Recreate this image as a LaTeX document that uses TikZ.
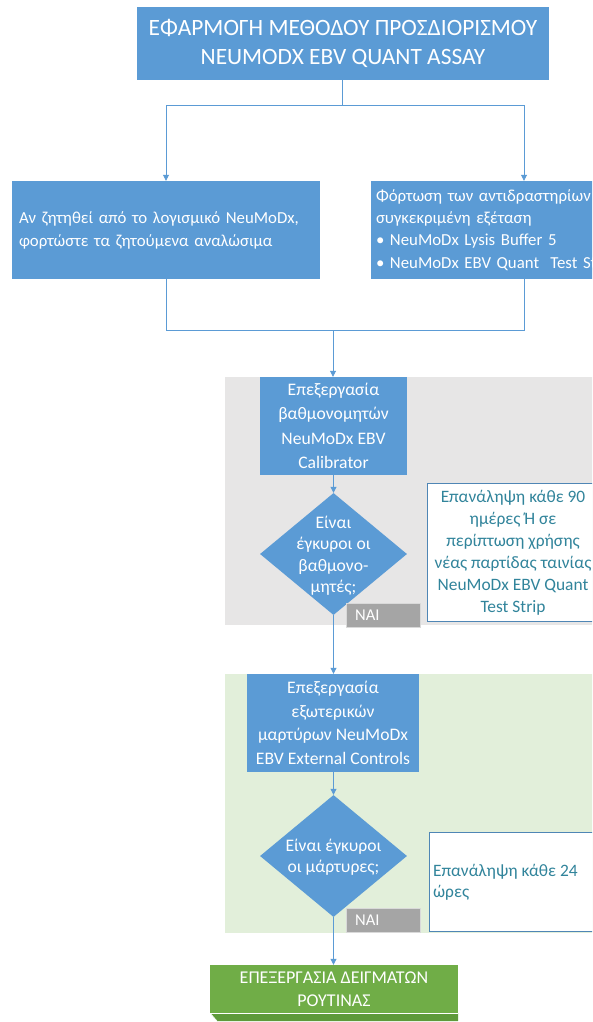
\documentclass[tikz,border=0pt]{standalone}
\usepackage{fontspec}
\setmainfont{Carlito}
\usetikzlibrary{shapes.geometric,arrows.meta}
\definecolor{mblue}{HTML}{5B9BD5}
\definecolor{lgray}{HTML}{E7E6E6}
\definecolor{lgreen}{HTML}{E2EFDA}
\definecolor{nborder}{HTML}{4F86B5}
\definecolor{ntext}{HTML}{31849B}
\definecolor{naigray}{HTML}{A5A5A5}
\definecolor{fgreen}{HTML}{70AD47}
\definecolor{fgreendk}{HTML}{5E9A3A}
\tikzset{
  bluebox/.style={draw=none,fill=mblue,text=white,inner sep=0pt,align=center},
  decision/.style={diamond,draw=none,fill=mblue,inner sep=0pt,aspect=1.2},
  notebox/.style={draw=nborder,line width=0.8pt,fill=white,inner sep=0pt},
  naibox/.style={draw=white!85!black,line width=0.6pt,fill=naigray,text=white,inner sep=0pt,minimum width=74pt,minimum height=24pt},
  conn/.style={draw=mblue,line width=0.8pt},
  arr/.style={conn,-{Triangle[width=6pt,length=6pt]}},
}
\begin{document}
\begin{tikzpicture}[x=1pt,y=-1pt]
\useasboundingbox (0,0) rectangle (592,1022);
\clip (0,0) rectangle (592,1022);
\fill[white] (0,0) rectangle (592,1022);
% regions
\fill[lgray] (225,377) rectangle (600,625);
\fill[lgreen] (225,674) rectangle (600,933);
% title
\node[bluebox,minimum width=412pt,minimum height=73pt,font=\fontsize{23.4}{28.5}\selectfont] (title) at (343,43.5)
  {ΕΦΑΡΜΟΓΗ ΜΕΘΟΔΟΥ ΠΡΟΣΔΙΟΡΙΣΜΟΥ\\NEUMODX EBV QUANT ASSAY};
% two boxes
\node[bluebox,minimum width=308pt,minimum height=98pt,text width=294pt,align=left,font=\fontsize{16.8}{23}\selectfont] (left) at (166,230)
  {Αν ζητηθεί από το λογισμικό NeuMoDx,\\φορτώστε τα ζητούμενα αναλώσιμα};
\node[bluebox,minimum width=306pt,minimum height=98pt,text width=296pt,align=left,font=\fontsize{16.8}{22.3}\selectfont] (right) at (524,230)
  {Φόρτωση των αντιδραστηρίων\\συγκεκριμένη εξέταση\\• NeuMoDx Lysis Buffer 5\\• NeuMoDx EBV Quant\ \ Test Strip};
% calibrator
\node[bluebox,minimum width=147pt,minimum height=98pt,font=\fontsize{17.6}{24.3}\selectfont] (calib) at (333.5,426)
  {Επεξεργασία\\βαθμονομητών\\NeuMoDx EBV\\Calibrator};
\node[decision,minimum width=147pt,minimum height=122pt] (d1) at (333.5,554) {};
\node[text=white,align=center,font=\fontsize{17.6}{21.5}\selectfont] (d1t) at ([yshift=-1.5pt]d1.center) {Είναι\\έγκυροι οι\\βαθμονο-\\μητές;};
\node[notebox,minimum width=172pt,minimum height=138pt] (n1) at (513,552) {};
\node[text=ntext,align=center,font=\fontsize{17.4}{22}\selectfont] (n1t) at ([yshift=-1pt]n1.center) {Επανάληψη κάθε 90\\ημέρες Ή σε\\περίπτωση χρήσης\\νέας παρτίδας ταινίας\\NeuMoDx EBV Quant\\Test Strip};
\node[naibox] (nai1) at (383,615) {};
\node[text=white,anchor=west,font=\fontsize{16.5}{18}\selectfont] (nai1t) at ([xshift=6pt]nai1.west) {NAI};
% external controls
\node[bluebox,minimum width=172pt,minimum height=98pt,font=\fontsize{17.6}{23.5}\selectfont] (ext) at (333,723)
  {Επεξεργασία\\εξωτερικών\\μαρτύρων NeuMoDx\\EBV External Controls};
\node[decision,minimum width=147pt,minimum height=122pt] (d2) at (333.5,856) {};
\node[text=white,align=center,font=\fontsize{17.6}{21.5}\selectfont] (d2t) at ([yshift=-1pt]d2.center) {Είναι έγκυροι\\οι μάρτυρες;};
\node[notebox,minimum width=172pt,minimum height=99pt] (n2) at (515,881.5) {};
\node[text=ntext,anchor=west,align=left,font=\fontsize{17.4}{21}\selectfont] (n2t) at ([xshift=1pt,yshift=-1pt]n2.west) {Επανάληψη κάθε 24\\ώρες};
\node[naibox] (nai2) at (383,920) {};
\node[text=white,anchor=west,font=\fontsize{16.5}{18}\selectfont] (nai2t) at ([xshift=6pt]nai2.west) {NAI};
% final
\fill[fgreendk] (210,1013) -- (458,1013) -- (458,1021) -- (217,1021) -- cycle;
\draw[white,line width=0.6pt] (210,1013) -- (458,1013);
\draw[white,line width=0.6pt] (210,1013) -- (217,1021);
\node[bluebox,fill=fgreen,minimum width=248pt,minimum height=48pt,font=\fontsize{18}{22.5}\selectfont] (final) at (334,989)
  {ΕΠΕΞΕΡΓΑΣΙΑ ΔΕΙΓΜΑΤΩΝ\\ΡΟΥΤΙΝΑΣ};
% connectors
\coordinate (s1) at (342,105);
\coordinate (j2) at (333,330);
\draw[conn] (title.south -| s1) -- (s1);
\draw[arr] (s1) -| (left.north);
\draw[arr] (s1) -| (right.north);
\draw[conn] (left.south) |- (j2);
\draw[conn] (right.south) |- (j2);
\draw[arr] (j2) -- (calib.north -| j2);
\draw[arr] (calib.south) -- (d1.north);
\draw[arr] (d1.south) -- (ext.north -| d1.south);
\draw[arr] (ext.south -| d2.north) -- (d2.north);
\draw[arr] (d2.south) -- (final.north -| d2.south);
\end{tikzpicture}
\end{document}
